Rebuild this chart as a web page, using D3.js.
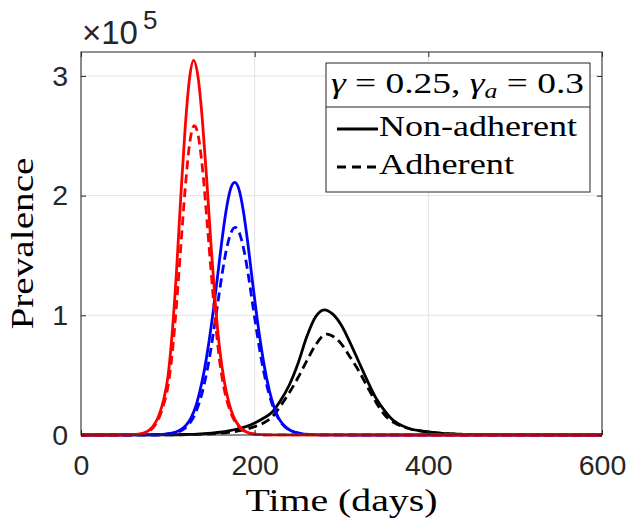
<!DOCTYPE html>
<html>
<head>
<meta charset="utf-8">
<script src="https://cdn.jsdelivr.net/npm/d3@7"></script>
<style>
  html, body { margin: 0; padding: 0; background: #fff; }
  svg { display: block; }
</style>
</head>
<body>
<svg id="chart" width="626" height="528"></svg>
<script>
// ---- data (prevalence in units of 1e5) ----
const xTicks = [0, 200, 400, 600];
const yTicks = [0, 1, 2, 3];
const xLabel = "Time (days)";
const yLabel = "Prevalence";
const legendTitle = ["γ", " = 0.25, ", "γ", "a", " = 0.3"];
const legendLabels = ["Non-adherent", "Adherent"];

const blackSolidDays = [0,50,100,120,140,150,160,170,180,190,200,210,220,230,240,250,260,270,280,290,300,310,320,330,340,350,360,370,380,390,400,410,420,440,460,500,600];
const blackSolidVals = [0,0.0003,0.0015,0.004,0.01,0.015,0.023,0.034,0.05,0.07,0.10,0.14,0.19,0.29,0.42,0.60,0.82,0.985,1.046,1.01,0.915,0.77,0.61,0.45,0.305,0.20,0.12,0.077,0.05,0.036,0.025,0.017,0.012,0.006,0.003,0.001,0];

const blackDashDays = [0,50,100,150,170,180,190,200,210,220,230,240,250,260,270,280,283,290,300,310,320,330,340,350,360,370,380,390,400,420,440,460,500,600];
const blackDashVals = [0,0.0002,0.001,0.01,0.022,0.032,0.047,0.07,0.10,0.15,0.245,0.355,0.48,0.62,0.75,0.835,0.843,0.825,0.76,0.65,0.535,0.40,0.27,0.165,0.105,0.07,0.048,0.034,0.024,0.012,0.006,0.003,0.001,0];

const blueSolidDays = [0,60,87,97,107,112,117,122,127,132,137,142,147,152,157,162,167,172,177,182,187,192,197,202,207,212,217,222,227,232,237,242,247,257,267,280,320,600];
const blueSolidVals = [0,0.0003,0.002,0.007,0.02,0.033,0.055,0.09,0.148,0.236,0.37,0.54,0.76,1.02,1.31,1.61,1.87,2.05,2.11,2.05,1.87,1.61,1.31,1.02,0.76,0.54,0.37,0.24,0.15,0.095,0.06,0.036,0.022,0.008,0.003,0.001,0.0001,0];

const blueDashDays = [0,60,87.5,97.5,107.5,112.5,117.5,122.5,127.5,132.5,137.5,142.5,147.5,152.5,157.5,162.5,167.5,172.5,177.5,182.5,187.5,192.5,197.5,202.5,207.5,212.5,217.5,222.5,227.5,232.5,237.5,247.5,257.5,267.5,280,320,600];
const blueDashVals = [0,0.0002,0.002,0.006,0.017,0.028,0.046,0.075,0.122,0.195,0.30,0.445,0.625,0.855,1.10,1.345,1.55,1.686,1.735,1.686,1.55,1.345,1.10,0.86,0.64,0.46,0.32,0.21,0.135,0.085,0.053,0.02,0.008,0.003,0.001,0.0001,0];

const redSolidDays = [0,40,50,60,70,75,80,85,90,95,100,105,110,115,120,125,129.6,135,140,145,150,155,160,165,170,175,180,185,190,200,210,220,600];
const redSolidVals = [0,0.0001,0.0005,0.003,0.012,0.025,0.05,0.095,0.17,0.29,0.48,0.85,1.37,2.0,2.57,2.98,3.13,2.98,2.61,2.11,1.56,1.07,0.70,0.45,0.28,0.165,0.095,0.052,0.027,0.007,0.002,0.0005,0];

const redDashDays = [0,40,50,60,70,75,80,85,90,95,100,105,110,115,120,125,130.5,135,140,145,150,155,160,165,170,175,180,185,190,200,210,220,600];
const redDashVals = [0,0.0001,0.0004,0.002,0.01,0.02,0.04,0.08,0.145,0.25,0.40,0.68,1.09,1.58,2.06,2.43,2.585,2.50,2.22,1.80,1.35,0.93,0.60,0.38,0.24,0.145,0.085,0.047,0.025,0.007,0.002,0.0005,0];

const seriesList = [
  {days: blackSolidDays, vals: blackSolidVals, color: "#000000", dash: null},
  {days: blackDashDays,  vals: blackDashVals,  color: "#000000", dash: "9,5"},
  {days: blueSolidDays,  vals: blueSolidVals,  color: "#0000ff", dash: null},
  {days: blueDashDays,   vals: blueDashVals,   color: "#0000ff", dash: "9,5"},
  {days: redSolidDays,   vals: redSolidVals,   color: "#ff0000", dash: null},
  {days: redDashDays,    vals: redDashVals,    color: "#ff0000", dash: "9,5"}
];

// ---- layout ----
const L = 81, R = 602, T = 52, B = 435;
const svg = d3.select("#chart");
const x = d3.scaleLinear().domain([0, 600]).range([L, R]);
const y = d3.scaleLinear().domain([0, 3.2]).range([B, T]);
const axisColor = "#262626";
const sansFont = "'Liberation Sans', Arial, Helvetica, sans-serif";
const serifFont = "'Liberation Serif', 'Times New Roman', serif";

// grid
const grid = svg.append("g").attr("stroke", "#e3e3e3").attr("stroke-width", 1);
xTicks.forEach(t => grid.append("line")
  .attr("x1", x(t)).attr("x2", x(t)).attr("y1", T).attr("y2", B));
yTicks.forEach(t => grid.append("line")
  .attr("x1", L).attr("x2", R).attr("y1", y(t)).attr("y2", y(t)));

// clip for lines
svg.append("clipPath").attr("id", "plotclip")
  .append("rect").attr("x", L).attr("y", T - 2).attr("width", R - L + 1).attr("height", B - T + 4);

// lines
const lineGen = d3.line().x(d => x(d[0])).y(d => y(d[1])).curve(d3.curveMonotoneX);
const linesG = svg.append("g").attr("clip-path", "url(#plotclip)");
seriesList.forEach(s => {
  const pts = s.days.map((d, i) => [d, s.vals[i]]);
  linesG.append("path")
    .attr("d", lineGen(pts))
    .attr("fill", "none")
    .attr("stroke", s.color)
    .attr("stroke-width", 2.8)
    .attr("stroke-linejoin", "round")
    .attr("stroke-dasharray", s.dash);
});

// axes
function styleAxis(g) {
  g.selectAll(".domain").remove();
  g.selectAll(".tick line").attr("stroke", axisColor).attr("stroke-width", 1);
  g.selectAll(".tick text").attr("fill", axisColor)
    .attr("font-family", sansFont).attr("font-size", 28.5);
}
svg.append("g").attr("transform", `translate(0,${B})`)
  .call(d3.axisBottom(x).tickValues(xTicks).tickFormat(d3.format("d")).tickSize(-5).tickPadding(20))
  .call(styleAxis);
svg.append("g").attr("transform", `translate(0,${T})`)
  .call(d3.axisTop(x).tickValues(xTicks).tickFormat("").tickSize(-5))
  .call(styleAxis);
svg.append("g").attr("transform", `translate(${L},0)`)
  .call(d3.axisLeft(y).tickValues(yTicks).tickFormat(d3.format("d")).tickSize(-5).tickPadding(13))
  .call(styleAxis);
svg.append("g").attr("transform", `translate(${R},0)`)
  .call(d3.axisRight(y).tickValues(yTicks).tickFormat("").tickSize(-5))
  .call(styleAxis);

// box
svg.append("rect").attr("x", L).attr("y", T).attr("width", R - L).attr("height", B - T)
  .attr("fill", "none").attr("stroke", axisColor).attr("stroke-width", 1);

// exponent label
const expT = svg.append("text").attr("x", 82).attr("y", 44)
  .attr("font-family", sansFont).attr("font-size", 33).attr("fill", axisColor);
expT.append("tspan").text("×10");
expT.append("tspan").attr("dx", 5).attr("dy", -15).attr("font-size", 26).text("5");

// axis labels
svg.append("text").attr("x", (L + R) / 2).attr("y", 511)
  .attr("text-anchor", "middle").attr("font-family", serifFont).attr("font-size", 31)
  .attr("textLength", 192).attr("lengthAdjust", "spacingAndGlyphs")
  .attr("fill", "#000").text(xLabel);
svg.append("text")
  .attr("transform", `translate(33,${(T + B) / 2}) rotate(-90)`)
  .attr("text-anchor", "middle").attr("font-family", serifFont).attr("font-size", 31)
  .attr("textLength", 172).attr("lengthAdjust", "spacingAndGlyphs")
  .attr("fill", "#000").text(yLabel);

// legend
const lg = svg.append("g");
lg.append("rect").attr("x", 326).attr("y", 63).attr("width", 264).attr("height", 129)
  .attr("fill", "#fff").attr("stroke", axisColor).attr("stroke-width", 1);
lg.append("line").attr("x1", 326).attr("x2", 590).attr("y1", 107).attr("y2", 107)
  .attr("stroke", axisColor).attr("stroke-width", 1);
const tt = lg.append("text").attr("x", 331).attr("y", 93)
  .attr("font-family", serifFont).attr("font-size", 29).attr("fill", "#000")
  .attr("textLength", 253).attr("lengthAdjust", "spacingAndGlyphs");
tt.append("tspan").attr("font-style", "italic").text(legendTitle[0]);
tt.append("tspan").text(legendTitle[1]);
tt.append("tspan").attr("font-style", "italic").text(legendTitle[2]);
tt.append("tspan").attr("font-style", "italic").attr("font-size", 20).attr("dy", 5).text(legendTitle[3]);
tt.append("tspan").attr("dy", -5).text(legendTitle[4]);

const entries = [
  {label: legendLabels[0], dash: null, yLine: 129, yText: 136, w: 198},
  {label: legendLabels[1], dash: "9,6", yLine: 167, yText: 174, w: 135}
];
entries.forEach(e => {
  lg.append("line").attr("x1", 337).attr("x2", 378).attr("y1", e.yLine).attr("y2", e.yLine)
    .attr("stroke", "#000").attr("stroke-width", 2.8).attr("stroke-dasharray", e.dash);
  lg.append("text").attr("x", 379).attr("y", e.yText)
    .attr("font-family", serifFont).attr("font-size", 29).attr("fill", "#000")
    .attr("textLength", e.w).attr("lengthAdjust", "spacingAndGlyphs")
    .text(e.label);
});
</script>
</body>
</html>
